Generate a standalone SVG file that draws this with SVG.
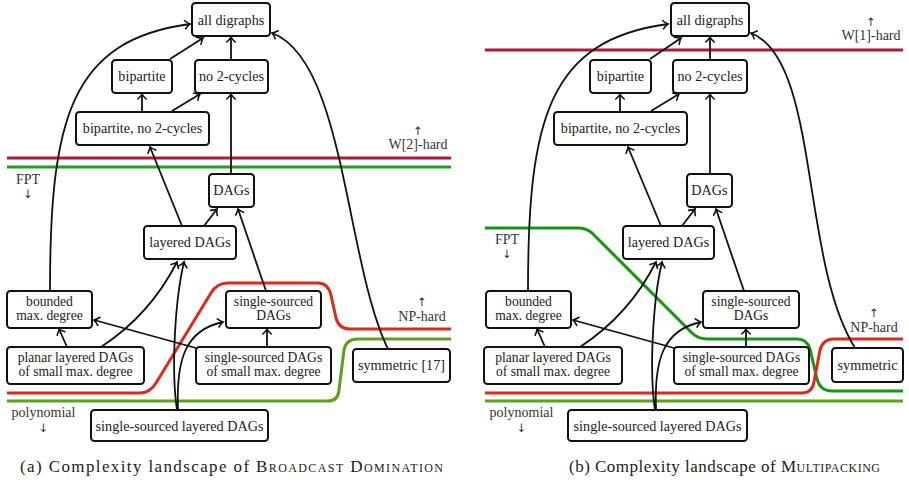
<svg xmlns="http://www.w3.org/2000/svg" width="909" height="492" viewBox="0 0 909 492">
<style>
  .n rect{fill:#fff;stroke:#111;stroke-width:2;}
  .n text,.lbl,.cap{font-family:"Liberation Serif","Times New Roman",serif;fill:#222;}
  .n text{font-size:14.2px;text-anchor:middle;}
  .n text.t2{font-size:13.6px;}
  .lbl{font-size:14px;text-anchor:middle;fill:#333;}
  .arr{font-family:"DejaVu Sans","Liberation Sans",sans-serif;font-size:11.5px;text-anchor:middle;fill:#333;}
  .cap{font-size:17px;}
  .sc{font-variant:small-caps;}
  .e path{fill:none;stroke:#111;stroke-width:1.8;marker-end:url(#ah);}
  .band{fill:none;stroke-width:3;}
  .hard{stroke:#b3183b;}
  .fpt{stroke:#1f9f1f;}
  .np{stroke:#dc2a1f;}
  .poly{stroke:#5ea01a;}
</style>
<defs>
  <marker id="ah" viewBox="-7 -6 9 12" markerWidth="9" markerHeight="12" markerUnits="userSpaceOnUse" orient="auto" refX="0" refY="0">
    <path d="M-5,-4.2 C-3,-2 -1.2,-0.5 0,0 C-1.2,0.5 -3,2 -5,4.2" fill="none" stroke="#111" stroke-width="1.6" stroke-linecap="round"/>
  </marker>
</defs>

<!-- complexity boundary lines -->
<g id="boundaries">
  <path class="band hard" d="M7,158 H451"/>
  <path class="band fpt" d="M7,167 H451"/>
  <path class="band np" d="M7,393 H140 Q150,393 156,383 L211,293 Q217,283 228,283 H318 Q328,283 331,295 L336,318 Q339,329 350,329 H451"/>
  <path class="band poly" d="M7,401 H328 Q338,401 339,390 L344,350 Q346,339 358,339 H451"/>
  <path class="band hard" d="M485,50 H903"/>
  <path class="band fpt" style="stroke:#159615" d="M485,228 H578 Q586,228 592,233 L692,333 Q698,339 708,339 H797 Q807,339 810,349 L817,379 Q820,391 832,391 H903"/>
  <path class="band np" d="M485,393 H802 Q812,393 814,382 L820,350 Q823,339 834,339 H903"/>
  <path class="band poly" d="M485,401 H903"/>
</g>

<!-- region labels -->
<g id="labels">
  <text class="arr" x="418" y="135">↑</text>
  <text class="lbl" x="418" y="149">W[2]-hard</text>
  <text class="lbl" x="28" y="184">FPT</text>
  <text class="arr" x="28" y="198">↓</text>
  <text class="arr" x="422" y="306">↑</text>
  <text class="lbl" x="422" y="321">NP-hard</text>
  <text class="lbl" x="43.5" y="417">polynomial</text>
  <text class="arr" x="43.5" y="432">↓</text>

  <text class="arr" x="871" y="26">↑</text>
  <text class="lbl" x="871" y="40">W[1]-hard</text>
  <text class="lbl" x="507" y="244">FPT</text>
  <text class="arr" x="507" y="258">↓</text>
  <text class="arr" x="874" y="317">↑</text>
  <text class="lbl" x="874" y="332">NP-hard</text>
  <text class="lbl" x="521.5" y="417">polynomial</text>
  <text class="arr" x="521.5" y="432">↓</text>
</g>

<!-- connectors -->
<g id="connectors" class="e">
  <path d="M170,59 L203,38"/>
  <path d="M231,60 L231,37"/>
  <path d="M142,112 L142,94"/>
  <path d="M172,111 L200,94"/>
  <path d="M182,226 L150,147"/>
  <path d="M231,174 L231,94"/>
  <path d="M204,226 L217,209"/>
  <path d="M266,291 L238,209"/>
  <path d="M50,291 C50,120 70,40 190,24"/>
  <path d="M388,349 C345,260 345,60 272,33"/>
  <path d="M67,347 L59,329"/>
  <path d="M101,347 Q150,315 177,262"/>
  <path d="M196,348 L94,320"/>
  <path d="M267,347 L267,329"/>
  <path d="M177,410 C171,370 175,300 184,262"/>
  <path d="M178,410 C176,360 185,330 223,322"/>

  <path d="M650,59 L681,38"/>
  <path d="M710,60 L710,37"/>
  <path d="M620,112 L620,94"/>
  <path d="M651,111 L679,94"/>
  <path d="M661,226 L628,147"/>
  <path d="M710,174 L710,94"/>
  <path d="M682,226 L695,209"/>
  <path d="M744,291 L716,209"/>
  <path d="M528,291 C528,120 548,40 668,24"/>
  <path d="M855,348 C800,260 820,60 751,33"/>
  <path d="M545,347 L537,329"/>
  <path d="M580,347 Q629,315 656,262"/>
  <path d="M674,348 L573,320"/>
  <path d="M746,347 L746,329"/>
  <path d="M655,410 C649,370 653,300 662,262"/>
  <path d="M656,410 C654,360 663,330 701,322"/>
</g>

<!-- panel (a) nodes -->
<g id="a-all" class="n"><rect x="192" y="3" width="78" height="33" rx="3.5"/><text x="231" y="25">all digraphs</text></g>
<g id="a-bip" class="n"><rect x="112" y="60" width="60" height="33" rx="3.5"/><text x="142" y="81">bipartite</text></g>
<g id="a-no2" class="n"><rect x="195" y="60" width="73" height="33" rx="3.5"/><text x="231.5" y="81">no 2-cycles</text></g>
<g id="a-bnc" class="n"><rect x="76" y="112" width="133" height="33" rx="3.5"/><text x="142.5" y="133">bipartite, no 2-cycles</text></g>
<g id="a-dags" class="n"><rect x="209" y="174" width="45" height="33" rx="3.5"/><text x="231.5" y="195">DAGs</text></g>
<g id="a-lay" class="n"><rect x="144" y="226" width="92" height="33" rx="3.5"/><text x="190" y="247">layered DAGs</text></g>
<g id="a-bmd" class="n"><rect x="7" y="291" width="85" height="37" rx="3.5"/><text class="t2" x="49.5" y="306">bounded</text><text class="t2" x="49.5" y="320">max. degree</text></g>
<g id="a-ssd" class="n"><rect x="226" y="291" width="95" height="37" rx="3.5"/><text class="t2" x="273.5" y="306">single-sourced</text><text class="t2" x="273.5" y="320">DAGs</text></g>
<g id="a-pl" class="n"><rect x="7" y="347" width="137" height="37" rx="3.5"/><text class="t2" x="75.5" y="362">planar layered DAGs</text><text class="t2" x="75.5" y="376">of small max. degree</text></g>
<g id="a-sss" class="n"><rect x="196" y="347" width="135" height="37" rx="3.5"/><text class="t2" x="263.5" y="362">single-sourced DAGs</text><text class="t2" x="263.5" y="376">of small max. degree</text></g>
<g id="a-sym" class="n"><rect x="353" y="349" width="97" height="33" rx="3.5"/><text x="401.5" y="370">symmetric [17]</text></g>
<g id="a-ssl" class="n"><rect x="91" y="410" width="177" height="31" rx="3.5"/><text x="179.5" y="431">single-sourced layered DAGs</text></g>

<!-- panel (b) nodes -->
<g id="b-all" class="n"><rect x="671" y="3" width="78" height="33" rx="3.5"/><text x="710" y="25">all digraphs</text></g>
<g id="b-bip" class="n"><rect x="590" y="60" width="61" height="33" rx="3.5"/><text x="620.5" y="81">bipartite</text></g>
<g id="b-no2" class="n"><rect x="673" y="60" width="74" height="33" rx="3.5"/><text x="710" y="81">no 2-cycles</text></g>
<g id="b-bnc" class="n"><rect x="554" y="112" width="133" height="33" rx="3.5"/><text x="620.5" y="133">bipartite, no 2-cycles</text></g>
<g id="b-dags" class="n"><rect x="687" y="174" width="45" height="33" rx="3.5"/><text x="709.5" y="195">DAGs</text></g>
<g id="b-lay" class="n"><rect x="623" y="226" width="91" height="33" rx="3.5"/><text x="668.5" y="247">layered DAGs</text></g>
<g id="b-bmd" class="n"><rect x="486" y="291" width="85" height="37" rx="3.5"/><text class="t2" x="528.5" y="306">bounded</text><text class="t2" x="528.5" y="320">max. degree</text></g>
<g id="b-ssd" class="n"><rect x="703" y="291" width="96" height="37" rx="3.5"/><text class="t2" x="751" y="306">single-sourced</text><text class="t2" x="751" y="320">DAGs</text></g>
<g id="b-pl" class="n"><rect x="484" y="347" width="138" height="37" rx="3.5"/><text class="t2" x="553" y="362">planar layered DAGs</text><text class="t2" x="553" y="376">of small max. degree</text></g>
<g id="b-sss" class="n"><rect x="674" y="347" width="135" height="37" rx="3.5"/><text class="t2" x="741.5" y="362">single-sourced DAGs</text><text class="t2" x="741.5" y="376">of small max. degree</text></g>
<g id="b-sym" class="n"><rect x="832" y="348" width="71" height="34" rx="3.5"/><text x="867.5" y="370">symmetric</text></g>
<g id="b-ssl" class="n"><rect x="568" y="410" width="179" height="31" rx="3.5"/><text x="657.5" y="431">single-sourced layered DAGs</text></g>

<!-- captions -->
<g id="captions">
  <text class="cap" x="20" y="472" textLength="423" lengthAdjust="spacing">(a) Complexity landscape of <tspan class="sc">Broadcast Domination</tspan></text>
  <text class="cap" x="569" y="472" textLength="311" lengthAdjust="spacing">(b) Complexity landscape of <tspan class="sc">Multipacking</tspan></text>
</g>
</svg>
